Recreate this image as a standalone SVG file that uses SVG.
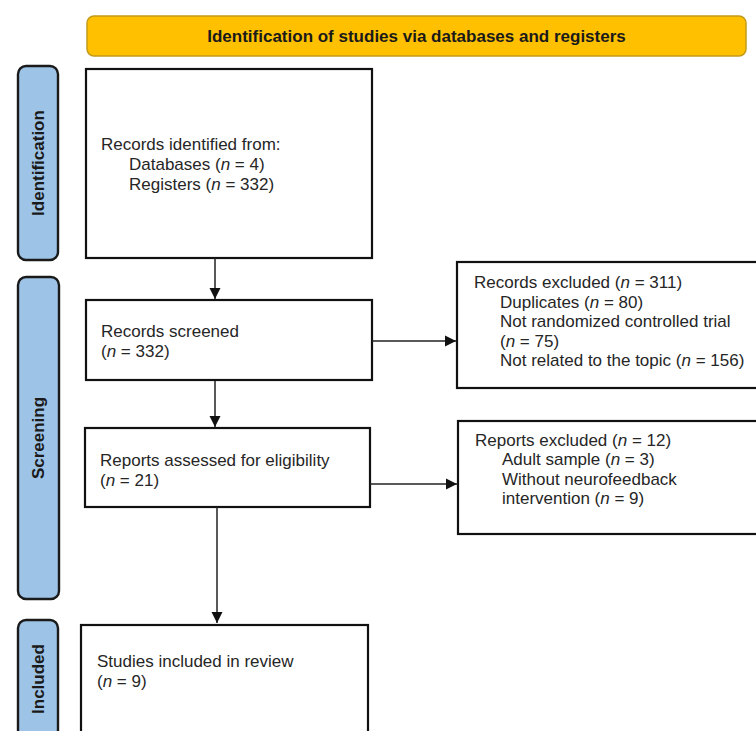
<svg xmlns="http://www.w3.org/2000/svg" width="756" height="731" viewBox="0 0 756 731">
<defs>
<marker id="ah" markerUnits="userSpaceOnUse" markerWidth="12" markerHeight="12" viewBox="0 0 12 12" refX="11" refY="6" orient="auto">
<path d="M0,0.5 L11,6 L0,11.5 Z" fill="#111"/>
</marker>
<style>
.box{fill:#fff;stroke:#111;stroke-width:2.2}
.lbl{fill:#9dc3e6;stroke:#1a1a1a;stroke-width:2.4}
.t{font-family:"Liberation Sans",Arial,sans-serif;font-size:17px;fill:#262626}
.b{font-family:"Liberation Sans",Arial,sans-serif;font-size:17px;font-weight:bold;fill:#1a1a1a}
.i{font-style:italic}
.c{fill:none;stroke:#222;stroke-width:1.5}
</style>
</defs>
<rect width="756" height="731" fill="#fff"/>
<g id="banner">
<rect x="87" y="16" width="659" height="40" rx="7" fill="#ffc000" stroke="#c49a1a" stroke-width="1.5"/>
<text class="b" x="416.5" y="42" text-anchor="middle">Identification of studies via databases and registers</text>
</g>
<g id="label-identification">
<rect class="lbl" x="18" y="66" width="40" height="194" rx="8"/>
<text class="b" transform="translate(44,163) rotate(-90)" text-anchor="middle">Identification</text>
</g>
<g id="label-screening">
<rect class="lbl" x="18" y="277" width="41" height="322" rx="8"/>
<text class="b" transform="translate(44,438) rotate(-90)" text-anchor="middle">Screening</text>
</g>
<g id="label-included">
<rect class="lbl" x="18" y="620" width="40" height="118" rx="8"/>
<text class="b" transform="translate(44,679) rotate(-90)" text-anchor="middle">Included</text>
</g>
<g id="records-identified">
<rect class="box" x="86" y="69" width="286" height="189"/>
<text class="t" x="101" y="150">Records identified from:</text>
<text class="t" x="129" y="170">Databases (<tspan class="i">n</tspan> = 4)</text>
<text class="t" x="129" y="190">Registers (<tspan class="i">n</tspan> = 332)</text>
</g>
<g id="records-screened">
<rect class="box" x="86" y="300" width="286" height="80"/>
<text class="t" x="101" y="337">Records screened</text>
<text class="t" x="101" y="357">(<tspan class="i">n</tspan> = 332)</text>
</g>
<g id="reports-assessed">
<rect class="box" x="85" y="428" width="285" height="79"/>
<text class="t" x="100" y="466">Reports assessed for eligibility</text>
<text class="t" x="100" y="486">(<tspan class="i">n</tspan> = 21)</text>
</g>
<g id="studies-included">
<rect class="box" x="81" y="625" width="287" height="120"/>
<text class="t" x="97" y="667">Studies included in review</text>
<text class="t" x="97" y="687">(<tspan class="i">n</tspan> = 9)</text>
</g>
<g id="records-excluded">
<rect class="box" x="457" y="262" width="310" height="126"/>
<text class="t" x="474" y="288">Records excluded (<tspan class="i">n</tspan> = 311)</text>
<text class="t" x="500" y="308">Duplicates (<tspan class="i">n</tspan> = 80)</text>
<text class="t" x="500" y="327">Not randomized controlled trial</text>
<text class="t" x="500" y="347">(<tspan class="i">n</tspan> = 75)</text>
<text class="t" x="500" y="366">Not related to the topic (<tspan class="i">n</tspan> = 156)</text>
</g>
<g id="reports-excluded">
<rect class="box" x="458" y="421" width="310" height="113"/>
<text class="t" x="475" y="446">Reports excluded (<tspan class="i">n</tspan> = 12)</text>
<text class="t" x="502" y="465">Adult sample (<tspan class="i">n</tspan> = 3)</text>
<text class="t" x="502" y="485">Without neurofeedback</text>
<text class="t" x="502" y="504">intervention (<tspan class="i">n</tspan> = 9)</text>
</g>
<g id="connectors">
<line class="c" x1="215" y1="258" x2="215" y2="299" marker-end="url(#ah)"/>
<line class="c" x1="215" y1="381" x2="215" y2="427" marker-end="url(#ah)"/>
<line class="c" x1="217" y1="507" x2="217" y2="623" marker-end="url(#ah)"/>
<line class="c" x1="372" y1="341" x2="456" y2="341" marker-end="url(#ah)"/>
<line class="c" x1="370" y1="484" x2="457" y2="484" marker-end="url(#ah)"/>
</g>
</svg>
